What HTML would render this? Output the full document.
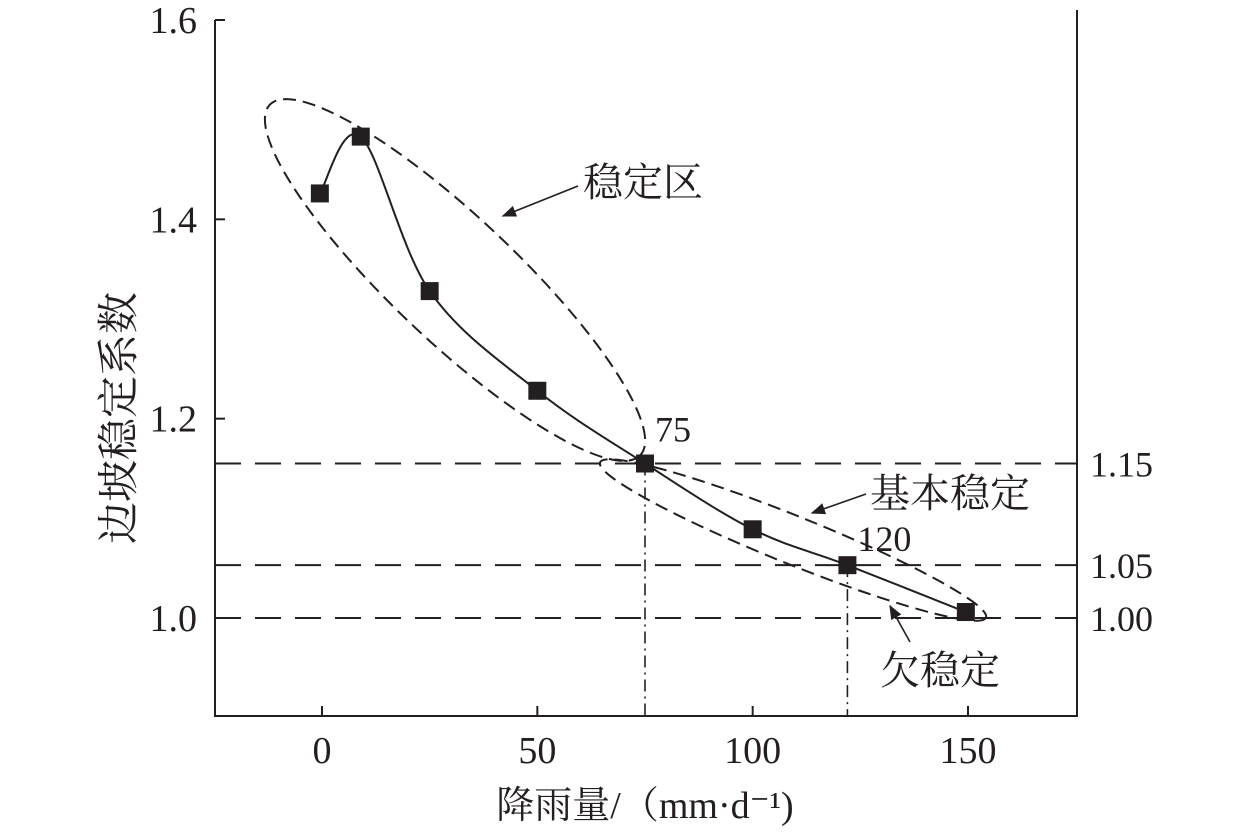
<!DOCTYPE html>
<html><head><meta charset="utf-8">
<style>
html,body{margin:0;padding:0;background:#fff;}
svg{display:block;}
text{font-family:"Liberation Serif","Noto Serif CJK SC",serif;fill:#231f20;}
</style></head>
<body>
<svg id="chart" width="1259" height="833" viewBox="0 0 1259 833" xmlns="http://www.w3.org/2000/svg">
<defs>
<marker id="arr" viewBox="0 0 10 10" refX="9" refY="5" markerWidth="9" markerHeight="9" orient="auto">
<path d="M0,1 L10,5 L0,9 Z" fill="#231f20"/></marker>
</defs>
<g id="axes"></g>
<g id="guides"></g>
<g id="ellipses"></g>
<g id="series"></g>
<g id="annot"></g>
</svg>
<script>
const xTicks=[0,50,100,150];
const yTicks=[1.0,1.2,1.4,1.6];
const rightLabels=["1.15","1.05","1.00"];
const thresholdVals=[1.155,1.053,1.0];
const rainfall=[-0.5,9,25,50,75,100,122,149.5];
const factor=[1.426,1.483,1.328,1.228,1.155,1.089,1.053,1.006];
const markedX=[75,122];
const markedLabels=["75","120"];

const NS="http://www.w3.org/2000/svg";
const L=215,R=1077,T=20,B=716;
function xs(v){return 322+(v-0)*(968-322)/150;}
function ys(v){return 618-(v-1.0)*(618-20)/0.6;}
function mk(tag,attrs,parent,txt){const e=document.createElementNS(NS,tag);for(const k in attrs)e.setAttribute(k,attrs[k]);if(txt!==undefined)e.textContent=txt;parent.appendChild(e);return e;}
const ax=document.getElementById('axes');
let e;
e=mk('path',{d:`M${L},${T} L${L},${B} L${R},${B} L${R},10`,fill:'none',stroke:'#231f20','stroke-width':2},ax);


yTicks.forEach(v=>{
 e=mk('line',{x1:L,x2:L+10,y1:ys(v),y2:ys(v),stroke:'#231f20','stroke-width':2},ax);
 
 
 e=mk('text',{x:L-18,y:ys(v)+13,'text-anchor':'end','font-size':38},ax,v.toFixed(1));
 
 
});
xTicks.forEach(v=>{
 e=mk('line',{x1:xs(v),x2:xs(v),y1:B,y2:B-10,stroke:'#231f20','stroke-width':2},ax);
 
 
 e=mk('text',{x:xs(v),y:763,'text-anchor':'middle','font-size':38},ax,String(v));
 
 
});
e=mk('text',{x:0,y:0,'text-anchor':'middle','font-size':42,transform:'translate(133,418) rotate(-90)'},ax,'边坡稳定系数');


e=mk('text',{x:645,y:818,'text-anchor':'middle','font-size':38},ax,'降雨量/（mm·d⁻¹)');



const g=document.getElementById('guides');
thresholdVals.forEach((v,i)=>{
 e=mk('line',{x1:L,x2:R,y1:ys(v),y2:ys(v),stroke:'#231f20','stroke-width':2,'stroke-dasharray':'26,14'},g);
 
 
 e=mk('text',{x:1090,y:ys(v)+13,'font-size':36},g,rightLabels[i]);
 
 
});
markedX.forEach((xv,i)=>{
 const idx=rainfall.findIndex(r=>Math.abs(r-xv)<1);
 const yv=factor[idx];
 e=mk('line',{x1:xs(xv),x2:xs(xv),y1:ys(yv),y2:B,stroke:'#231f20','stroke-width':1.6,'stroke-dasharray':'12,5,2,5'},g);
 
 
 e=mk('text',{x:xs(xv)+10,y:ys(yv)-(i===0?22:14),'font-size':36},g,markedLabels[i]);
 
 
});

const el=document.getElementById('ellipses');
e=mk('ellipse',{cx:455,cy:280,rx:255,ry:62,transform:'rotate(43.4 455 280)',fill:'none',stroke:'#231f20','stroke-width':2,'stroke-dasharray':'13,7'},el);


e=mk('ellipse',{cx:793,cy:540,rx:208,ry:24,transform:'rotate(21.9 793 540)',fill:'none',stroke:'#231f20','stroke-width':2,'stroke-dasharray':'13,7'},el);



const s=document.getElementById('series');
const pts=rainfall.map((r,i)=>[xs(r),ys(factor[i])]);
let d=`M${pts[0][0]},${pts[0][1]}`;
for(let i=0;i<pts.length-1;i++){
 const p0=pts[i-1]||pts[i],p1=pts[i],p2=pts[i+1],p3=pts[i+2]||p2;
 const c1=[p1[0]+(p2[0]-p0[0])/6,p1[1]+(p2[1]-p0[1])/6];
 const c2=[p2[0]-(p3[0]-p1[0])/6,p2[1]-(p3[1]-p1[1])/6];
 d+=` C${c1[0]},${c1[1]} ${c2[0]},${c2[1]} ${p2[0]},${p2[1]}`;
}
e=mk('path',{d:d,fill:'none',stroke:'#231f20','stroke-width':2},s);


pts.forEach(p=>{
 e=mk('rect',{x:p[0]-9,y:p[1]-9,width:18,height:18,fill:'#231f20'},s);
 
 
});

const a=document.getElementById('annot');
function ann(tx,ty,label,x1,y1,x2,y2,name){
 let t=mk('text',{x:tx,y:ty,'font-size':40},a,label);
 
 
 let l=mk('line',{x1:x1,y1:y1,x2:x2,y2:y2,stroke:'#231f20','stroke-width':1.6,'marker-end':'url(#arr)'},a);
 
 
}
ann(583,196,'稳定区',578,186,503,216,'stable-zone');
ann(870,507,'基本稳定',866,494,812,513,'basic-stable');
ann(880,684,'欠稳定',910,642,890,606,'under-stable');
</script>
</body></html>
